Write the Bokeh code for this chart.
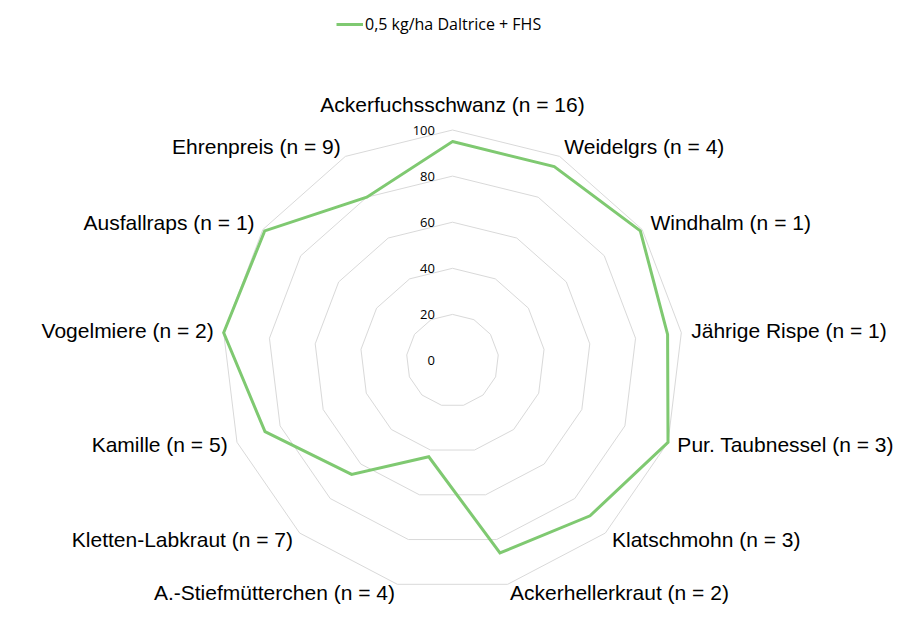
import numpy as np
from bokeh.plotting import figure
from bokeh.models import Range1d, Legend, LegendItem, ColumnDataSource
from bokeh.core.properties import value
from bokeh.embed import file_html
from bokeh.resources import INLINE

categories = [
    "Ackerfuchsschwanz (n = 16)",
    "Weidelgrs (n = 4)",
    "Windhalm (n = 1)",
    "Jährige Rispe (n = 1)",
    "Pur. Taubnessel (n = 3)",
    "Klatschmohn (n = 3)",
    "Ackerhellerkraut (n = 2)",
    "A.-Stiefmütterchen (n = 4)",
    "Kletten-Labkraut (n = 7)",
    "Kamille (n = 5)",
    "Vogelmiere (n = 2)",
    "Ausfallraps (n = 1)",
    "Ehrenpreis (n = 9)",
]
values = [95, 95, 99, 94, 100, 90, 86, 43, 66, 87, 100, 99, 80]
series_name = "0,5 kg/ha Daltrice + FHS"
ticks = [0, 20, 40, 60, 80, 100]

W, H = 907, 627
scale = 2.305          # pixels per value unit
cx, cy = 452, 360      # centre of the radar in pixels (from top-left)

p = figure(width=W, height=H, output_backend="svg", toolbar_location=None,
           x_range=Range1d(-cx / scale, (W - cx) / scale),
           y_range=Range1d(-(H - cy) / scale, cy / scale),
           min_border=0)
p.axis.visible = False
p.grid.visible = False
p.outline_line_color = None

n = len(categories)
ang = 2 * np.pi * np.arange(n) / n
sx, sy = np.sin(ang), np.cos(ang)

# rings
for t in ticks[1:]:
    p.patch(t * sx, t * sy, fill_color=None, line_color="#d9d9d9", line_width=1)

# tick labels, right aligned just left of the vertical axis
p.text(x=[-7.6] * len(ticks), y=ticks, text=[str(t) for t in ticks],
       text_font=value("Open Sans"), text_font_size="13px", text_color="#000000",
       text_align="right", text_baseline="middle")

# series (closed outline) + a line renderer used only for the legend sample
v = np.array(values, dtype=float)
p.patch(v * sx, v * sy, fill_color=None, line_color="#7fc971", line_width=3,
        line_join="miter")
r = p.line([np.nan, np.nan], [np.nan, np.nan], line_color="#7fc971", line_width=3)

# category labels
lab_r = np.full(n, 100 + 10 / scale)
lab_r[0] = 110.6
align = ["center" if abs(s) < 0.01 else ("left" if s > 0 else "right") for s in sx]
lab_y = lab_r * sy + 0.6
src = ColumnDataSource(dict(x=lab_r * sx, y=lab_y, text=categories, align=align))
p.text(x="x", y="y", text="text", text_align="align", source=src,
       text_font=value("Liberation Sans"), text_font_size="21px", text_color="#000000",
       text_baseline="middle")

legend = Legend(items=[LegendItem(label=series_name, renderers=[r])],
                location=(336, 592), orientation="horizontal",
                padding=0, margin=0, spacing=0, glyph_width=27, glyph_height=20,
                label_standoff=2, label_height=20,
                label_text_font="Open Sans", label_text_font_size="16px",
                label_text_color="#000000",
                border_line_alpha=0, background_fill_alpha=0)
p.add_layout(legend, "center")

open("out.html", "w").write(file_html(p, INLINE))
